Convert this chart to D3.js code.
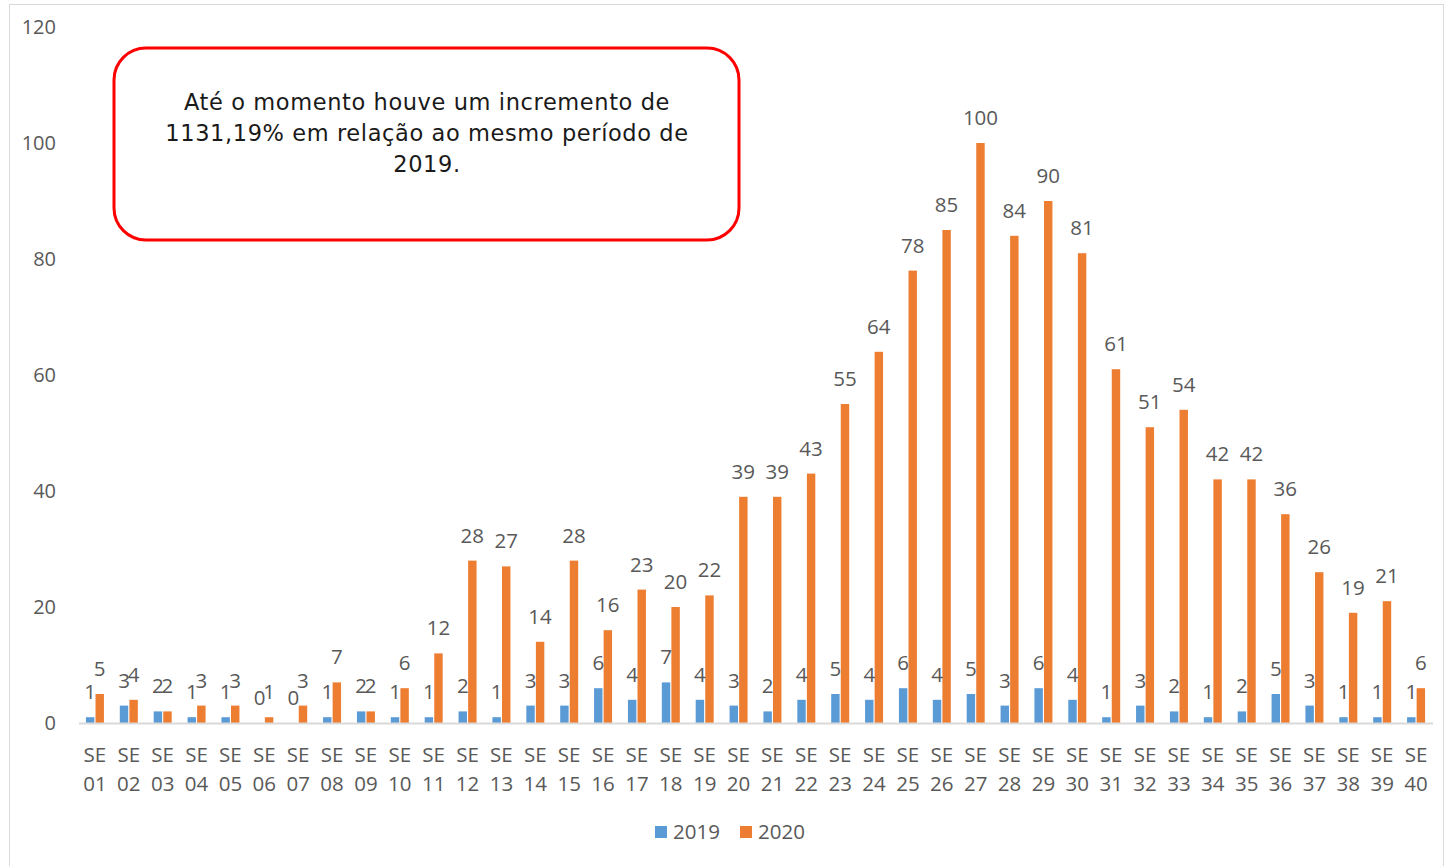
<!DOCTYPE html>
<html>
<head>
<meta charset="utf-8">
<script src="https://d3js.org/d3.v7.min.js"></script>
<style>
  body { margin: 0; background: #fff; }
  text { font-family: "Open Sans", sans-serif; fill: #595959; }
  text.note { font-family: "DejaVu Sans", sans-serif; fill: #1a1a1a; letter-spacing: 0.6px; }
</style>
</head>
<body>
<div id="chart"></div>
<script>
// semanas epidemiologicas
weeks = d3.range(1, 41).map(d => "SE " + String(d).padStart(2, "0"))
series = ["2019", "2020"]
cases2019 = [1,3,2,1,1,0,0,1,2,1,1,2,1,3,3,6,4,7,4,3,2,4,5,4,6,4,5,3,6,4,1,3,2,1,2,5,3,1,1,1]
cases2020 = [5,4,2,3,3,1,3,7,2,6,12,28,27,14,28,16,23,20,22,39,39,43,55,64,78,85,100,84,90,81,61,51,54,42,42,36,26,19,21,6]
yTicks = [0,20,40,60,80,100,120]
note = ["Até o momento houve um incremento de", "1131,19% em relação ao mesmo período de", "2019."]

width = 1453
height = 866
colors = {"2019": "#5B9BD5", "2020": "#ED7D31"}

svg = d3.select("#chart").append("svg")
    .attr("width", width)
    .attr("height", height)

// chart border
svg.append("rect")
    .attr("x", 9.5).attr("y", 4.5)
    .attr("width", 1434).attr("height", 880)
    .attr("fill", "none")
    .attr("stroke", "#D9D9D9")

x = d3.scaleBand().domain(weeks).range([78, 1433])
y = d3.scaleLinear().domain([0, 120]).range([723, 27])
x1 = d3.scaleBand().domain(series).range([0, 18]).paddingInner(0.12)
off = (x.bandwidth() - 18) / 2

data = weeks.map((w, i) => ({week: w, vals: [
  {s: "2019", v: cases2019[i]},
  {s: "2020", v: cases2020[i]}
]}))

// y axis labels (no line)
yAxis = svg.append("g").attr("transform", "translate(58,0)")
  .call(d3.axisLeft(y).tickValues(yTicks).tickSize(0).tickPadding(2))
yAxis.select(".domain").remove()
yAxis.selectAll("text").attr("font-size", 20).style("font-family", "Open Sans").attr("fill", "#595959")

groups = svg.selectAll("g.week")
  .data(data)
  .enter().append("g")
    .attr("class", "week")
    .attr("transform", d => "translate(" + (x(d.week) + off) + ",0)")

groups.selectAll("rect")
  .data(d => d.vals)
  .enter().append("rect")
    .attr("x", d => x1(d.s))
    .attr("y", d => y(d.v))
    .attr("width", x1.bandwidth())
    .attr("height", d => y(0) - y(d.v))
    .attr("fill", d => colors[d.s])

groups.selectAll("text")
  .data(d => d.vals)
  .enter().append("text")
    .attr("x", d => x1(d.s) + x1.bandwidth() / 2)
    .attr("y", d => y(d.v) - 18)
    .attr("text-anchor", "middle")
    .attr("font-size", 20.5)
    .text(d => d.v)

// x axis line
svg.append("line")
    .attr("x1", 79).attr("x2", 1433)
    .attr("y1", 723.5).attr("y2", 723.5)
    .attr("stroke", "#D9D9D9")
    .attr("stroke-width", 2)

xl = svg.selectAll("text.xl")
  .data(weeks)
  .enter().append("text")
    .attr("class", "xl")
    .attr("text-anchor", "middle")
    .attr("font-size", 20.5)
xl.append("tspan")
    .attr("x", d => x(d) + x.bandwidth() / 2)
    .attr("y", 762)
    .text(d => d.split(" ")[0])
xl.append("tspan")
    .attr("x", d => x(d) + x.bandwidth() / 2)
    .attr("y", 791)
    .text(d => d.split(" ")[1])

// legend
legend = svg.append("g").attr("transform", "translate(655,826)")
series.forEach(function(s, i) {
  g = legend.append("g").attr("transform", "translate(" + (i * 85) + ",0)")
  g.append("rect").attr("width", 12).attr("height", 12).attr("fill", colors[s])
  g.append("text").attr("x", 18).attr("y", 13).attr("font-size", 20.5).text(s)
})

// annotation box
svg.append("rect")
    .attr("x", 114).attr("y", 48)
    .attr("width", 625).attr("height", 192)
    .attr("rx", 32).attr("ry", 32)
    .attr("fill", "#fff")
    .attr("stroke", "#FF0000")
    .attr("stroke-width", 3)

svg.append("g").selectAll("text")
  .data(note)
  .enter().append("text")
    .attr("class", "note")
    .attr("x", 427)
    .attr("y", (d, i) => 110 + i * 31)
    .attr("text-anchor", "middle")
    .attr("font-size", 22.5)
    .text(d => d)
</script>
</body>
</html>
